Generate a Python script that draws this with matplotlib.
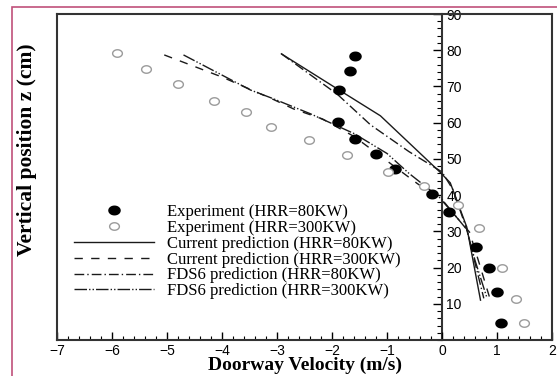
import matplotlib
matplotlib.use("Agg")
import matplotlib.pyplot as plt
import numpy as np
from matplotlib.path import Path
from matplotlib.patches import Rectangle
from matplotlib.ticker import MultipleLocator

# ---------------- data ----------------
exp80_v = [-1.59, -1.68, -1.87, -1.89, -1.59, -1.20, -0.85, -0.18, 0.13, 0.61, 0.85, 1.00, 1.08]
exp80_z = [78.5, 74.3, 69.0, 60.3, 55.5, 51.4, 47.2, 40.3, 35.4, 25.7, 19.9, 13.3, 4.7]

exp300_v = [-5.90, -5.38, -4.80, -4.15, -3.57, -3.10, -2.41, -1.72, -0.99, -0.33, 0.29, 0.67, 1.10, 1.34, 1.49]
exp300_z = [79.3, 74.9, 70.7, 66.0, 63.0, 58.8, 55.2, 51.1, 46.4, 42.5, 37.3, 30.9, 19.9, 11.3, 4.7]

cur80_v = [-2.92, -1.88, -1.12, -0.04, 0.15, 0.45, 0.70]
cur80_z = [79.0, 69.1, 61.9, 46.4, 43.4, 31.2, 11.0]

cur300_v = [-5.05, -4.00, -3.05, -2.70, -2.17, -1.60, -1.12, -0.45, 0.00, 0.50, 0.66, 0.88]
cur300_z = [78.7, 72.6, 66.3, 63.8, 61.0, 56.2, 50.8, 43.2, 38.5, 29.8, 22.0, 11.0]

fds80_v = [-2.92, -1.90, -1.30, -0.60, 0.00, 0.20, 0.45, 0.76]
fds80_z = [79.0, 67.8, 59.4, 52.0, 46.4, 41.5, 30.5, 11.5]

fds300_v = [-4.70, -3.48, -3.10, -2.40, -1.60, -1.00, -0.60, 0.00, 0.45, 0.60, 0.82]
fds300_z = [78.7, 69.0, 66.8, 62.5, 57.0, 51.5, 46.0, 38.8, 30.5, 22.0, 11.5]

labels = ["Experiment (HRR=80KW)", "Experiment (HRR=300KW)",
          "Current prediction (HRR=80KW)", "Current prediction (HRR=300KW)",
          "FDS6 prediction (HRR=80KW)", "FDS6 prediction (HRR=300KW)"]

x_ticks = [-7, -6, -5, -4, -3, -2, -1, 0, 1, 2]
z_ticks = [10, 20, 30, 40, 50, 60, 70, 80, 90]

# ---------------- figure ----------------
W, H = 557, 376
fig = plt.figure(figsize=(W / 100, H / 100), dpi=100)
fig.patch.set_facecolor("white")

# pink frame
fig.add_artist(Rectangle((11.5 / W, -0.1), 1.2, 1 - 6.5 / H + 0.1, transform=fig.transFigure,
                         fill=False, edgecolor="#c0507a", linewidth=1.2))

ax = fig.add_axes([57 / W, 1 - 340 / H, (552 - 57) / W, (340 - 14) / H])
for s in ax.spines.values():
    s.set_linewidth(1.5)
    s.set_color("#333333")

# elliptical marker (horizontally stretched)
t = np.linspace(0, 2 * np.pi, 60)
ell = Path(np.column_stack([1.3 * np.cos(t), np.sin(t)]), closed=True)

ax.plot(exp80_v, exp80_z, linestyle="none", marker=ell, markersize=8,
        markerfacecolor="black", markeredgecolor="black", label=labels[0], zorder=4)
ax.plot(exp300_v, exp300_z, linestyle="none", marker=ell, markersize=7,
        markerfacecolor="white", markeredgecolor="#9a9a9a", markeredgewidth=1.0,
        label=labels[1], zorder=4)

lc = "#1a1a1a"
ax.plot(cur80_v, cur80_z, color=lc, lw=1.0, linestyle="-", label=labels[2])
ax.plot(cur300_v, cur300_z, color=lc, lw=1.0, linestyle=(0, (6, 6)), label=labels[3])
ax.plot(fds80_v, fds80_z, color=lc, lw=1.0, linestyle=(0, (7, 2.2, 1, 2.2)), label=labels[4])
ax.plot(fds300_v, fds300_z, color=lc, lw=1.0,
        linestyle=(0, (9, 1.5, 1, 1.5, 1, 1.5)), label=labels[5])

ax.set_xlim(-7, 2)
ax.set_ylim(0, 90)

# x axis
ax.set_xticks(x_ticks)
ax.xaxis.set_minor_locator(MultipleLocator(0.2))
ax.tick_params(axis="x", which="major", direction="in", length=5.5, width=1.0,
               pad=3, labelsize=10, top=False)
ax.tick_params(axis="x", which="minor", direction="in", length=3, width=0.8, top=False)
for lab in ax.get_xticklabels():
    lab.set_fontfamily("Liberation Sans")
ax.set_yticks([])
ax.tick_params(axis="y", which="both", left=False, right=False)

ax.set_xlabel("Doorway Velocity (m/s)", fontfamily="Liberation Serif",
              fontweight="bold", fontsize=14, labelpad=-1)
ax.set_ylabel("Vertical position z (cm)", fontfamily="Liberation Serif",
              fontweight="bold", fontsize=15.5)
ax.yaxis.set_label_coords(-0.04, 0.585)

# inner y-axis at v = 0
sec = ax.secondary_yaxis(7 / 9)
sec.set_yticks(z_ticks)
sec.yaxis.set_minor_locator(MultipleLocator(2))
sec.tick_params(axis="y", which="major", direction="in", length=6.5, width=1.0,
                pad=3, labelsize=10)
sec.tick_params(axis="y", which="minor", direction="in", length=3.5, width=0.8)
for s in sec.spines.values():
    s.set_linewidth(1.5)
    s.set_color("#333333")
for lab in sec.get_yticklabels():
    lab.set_fontfamily("Liberation Sans")

leg = ax.legend(loc="upper left", bbox_to_anchor=(74 / W, 1 - 204 / H),
                bbox_transform=fig.transFigure, frameon=False,
                prop={"family": "Liberation Serif", "size": 12},
                handlelength=4.8, handletextpad=0.78, labelspacing=-0.01,
                borderpad=0, borderaxespad=0, numpoints=1)

fig.savefig("out.png", dpi=100)
